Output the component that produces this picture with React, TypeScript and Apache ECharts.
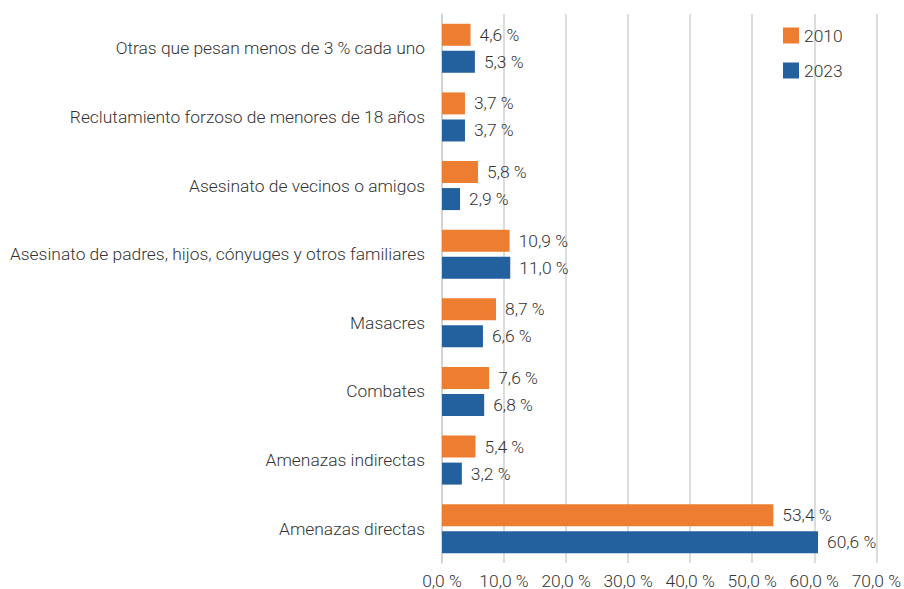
import React, { useEffect, useRef } from "react";
import * as echarts from "echarts";

const categories = [
  "Amenazas directas",
  "Amenazas indirectas",
  "Combates",
  "Masacres",
  "Asesinato de padres, hijos, cónyuges y otros familiares",
  "Asesinato de vecinos o amigos",
  "Reclutamiento forzoso de menores de 18 años",
  "Otras que pesan menos de 3 % cada uno",
];
const values2010 = [53.4, 5.4, 7.6, 8.7, 10.9, 5.8, 3.7, 4.6];
const values2023 = [60.6, 3.2, 6.8, 6.6, 11.0, 2.9, 3.7, 5.3];
const seriesNames = ["2010", "2023"];
const colors = ["#ED7D31", "#22609E"];

const fmt = (v: number) => v.toFixed(1).replace(".", ",") + " %";

export default function App() {
  const ref = useRef<HTMLDivElement>(null);
  useEffect(() => {
    if (!ref.current) return;
    const chart = echarts.init(ref.current, undefined, { renderer: "svg" });
    const font = "Roboto";
    const textColor = "#333333";
    const fs = 17.4;
    const labelStyle = {
      show: true,
      position: "right",
      distance: 9,
      formatter: (p: any) => fmt(p.value),
      fontSize: fs,
      color: textColor,
      fontWeight: 300,
      fontFamily: font,
    };
    chart.setOption({
      animation: false,
      textStyle: { fontFamily: font },
      legend: {
        orient: "vertical",
        left: 778,
        top: 22,
        itemWidth: 16,
        itemHeight: 16,
        itemGap: 18,
        icon: "rect",
        textStyle: { fontSize: fs, color: textColor, fontWeight: 300, fontFamily: font },
        data: seriesNames,
      },
      grid: { left: 442, right: 21, top: 14, bottom: 25, containLabel: false },
      xAxis: {
        type: "value",
        min: 0,
        max: 70,
        interval: 10,
        axisLine: { show: false },
        axisTick: { show: false },
        splitLine: { show: true, lineStyle: { color: "#D0D0D0", width: 1.5 } },
        axisLabel: {
          formatter: (v: number) => fmt(v),
          fontSize: fs,
          color: textColor,
          fontWeight: 300,
          fontFamily: font,
          margin: 9,
        },
      },
      yAxis: {
        type: "category",
        data: categories,
        axisLine: { show: true, lineStyle: { color: "#D0D0D0", width: 1.5 } },
        axisTick: { show: false },
        axisLabel: {
          fontSize: fs,
          color: textColor,
          fontWeight: 300,
          fontFamily: font,
          margin: 17,
        },
      },
      series: [
        {
          name: "2010",
          type: "bar",
          data: values2010,
          barWidth: 22,
          barGap: "23%",
          itemStyle: { color: colors[0] },
          label: labelStyle,
        },
        {
          name: "2023",
          type: "bar",
          data: values2023,
          barWidth: 22,
          barGap: "23%",
          itemStyle: { color: colors[1] },
          label: labelStyle,
        },
      ],
    });
    return () => chart.dispose();
  }, []);
  return <div ref={ref} style={{ width: 904, height: 589, position: "absolute", left: 0, top: 0 }} />;
}
